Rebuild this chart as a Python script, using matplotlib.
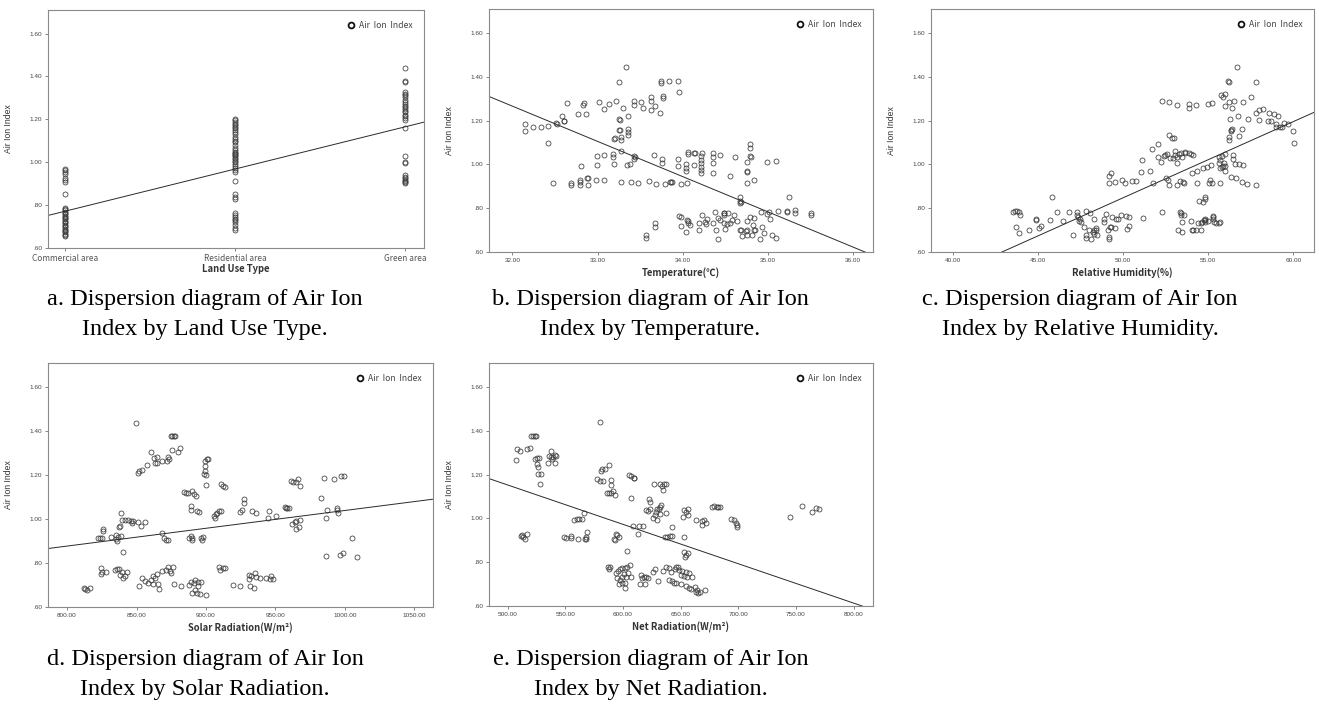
import numpy as np
import matplotlib
matplotlib.use("Agg")
import matplotlib.pyplot as plt
from matplotlib.ticker import FuncFormatter

# ---- a. land use type ----
land_use_types = ["Commercial area", "Residential area", "Green area"]
a_commercial = [0.656, 0.661, 0.667, 0.673, 0.679, 0.686, 0.690, 0.697, 0.703, 0.709, 0.716,
                0.721, 0.728, 0.733, 0.740, 0.746, 0.751, 0.758, 0.765, 0.770, 0.776, 0.782,
                0.788, 0.852, 0.909, 0.918, 0.925, 0.944, 0.955, 0.962, 0.967]
a_residential = [0.686, 0.695, 0.706, 0.722, 0.730, 0.736, 0.745, 0.755, 0.764, 0.830, 0.838,
                 0.851, 0.914, 0.956, 0.964, 0.975, 0.983, 0.992, 1.000, 1.008, 1.015, 1.022,
                 1.030, 1.035, 1.040, 1.045, 1.050, 1.058, 1.066, 1.080, 1.094, 1.100, 1.110,
                 1.120, 1.134, 1.140, 1.150, 1.158, 1.166, 1.172, 1.180, 1.188, 1.195, 1.200]
a_green = [0.902, 0.907, 0.912, 0.918, 0.925, 0.933, 0.941, 0.997, 1.000, 1.030, 1.158, 1.198,
           1.206, 1.214, 1.222, 1.232, 1.240, 1.250, 1.256, 1.264, 1.272, 1.280, 1.290, 1.303,
           1.313, 1.320, 1.328, 1.375, 1.380, 1.441]
a_fit = (0.5755, 0.1965)  # intercept, slope

# ---- b. temperature ----
b_temp = [32.15, 32.15, 32.24, 32.33, 32.42, 32.42, 32.51, 32.52, 32.48, 32.58, 32.60, 32.61,
          32.64, 32.69, 32.69, 32.77, 32.80, 32.79, 32.79, 32.79, 32.83, 32.84, 32.87, 32.88,
          32.89, 32.89, 32.98, 32.99, 32.99, 33.02, 33.07, 33.08, 33.08, 33.13, 33.18, 33.18,
          33.19, 33.20, 33.19, 33.22, 33.25, 33.25, 33.26, 33.25, 33.26, 33.27, 33.28, 33.28,
          33.28, 33.30, 33.33, 33.34, 33.36, 33.36, 33.36, 33.36, 33.38, 33.39, 33.43, 33.43,
          33.43, 33.44, 33.43, 33.48, 33.51, 33.53, 33.60, 33.63, 33.63, 33.63, 33.66, 33.67,
          33.69, 33.73, 33.75, 33.75, 33.76, 33.76, 33.77, 33.77, 33.79, 33.84, 33.85, 33.86,
          33.88, 33.95, 33.94, 33.94, 33.96, 33.98, 34.04, 34.04, 34.04, 34.05, 34.06, 34.06,
          34.13, 34.14, 34.13, 34.23, 34.21, 34.21, 34.21, 34.21, 34.21, 34.21, 34.35, 34.35,
          34.35, 34.35, 34.44, 34.56, 34.62, 34.76, 34.75, 34.79, 34.79, 34.79, 34.80, 34.76,
          34.75, 34.84, 34.99, 35.09, 35.25, 34.67, 34.67, 34.68, 34.67,
          33.57, 33.57, 33.67, 33.67, 33.96, 33.98, 33.98, 34.04, 34.05, 34.06, 34.08, 34.06,
          34.19, 34.19, 34.23, 34.26, 34.28, 34.27, 34.36, 34.38, 34.39, 34.41, 34.41, 34.44,
          34.48, 34.49, 34.48, 34.50, 34.53, 34.55, 34.58, 34.60, 34.64, 34.67, 34.68, 34.70,
          34.74, 34.76, 34.76, 34.76, 34.81, 34.79, 34.83, 34.84, 34.85, 34.84, 34.91, 34.92,
          34.93, 34.95, 34.99, 35.01, 35.03, 35.05, 35.10, 35.12, 35.22, 35.23, 35.32, 35.32,
          35.51, 35.51, 34.48, 34.52]
b_aii = [1.185, 1.154, 1.171, 1.171, 1.176, 1.099, 1.188, 1.185, 0.915, 1.221, 1.200, 1.197,
         1.279, 0.916, 0.904, 1.231, 0.995, 0.921, 0.908, 0.927, 1.270, 1.279, 1.232, 0.940,
         0.937, 0.908, 0.931, 1.038, 0.998, 1.285, 1.253, 1.044, 0.930, 1.275, 1.047, 1.034,
         1.118, 1.120, 1.001, 1.290, 1.376, 1.208, 1.205, 1.159, 1.156, 1.061, 1.127, 1.111,
         0.918, 1.258, 1.443, 0.998, 1.223, 1.160, 1.148, 1.134, 1.000, 0.922, 1.292, 1.270,
         1.040, 1.036, 1.023, 0.916, 1.287, 1.256, 0.924, 1.307, 1.288, 1.250, 1.041, 1.266,
         0.911, 1.237, 1.380, 1.374, 1.027, 1.008, 1.313, 1.305, 0.911, 1.382, 0.921, 0.918,
         0.918, 1.382, 0.994, 1.024, 1.330, 0.911, 1.001, 0.985, 0.969, 0.916, 1.058, 1.046,
         1.052, 1.050, 0.997, 1.052, 1.040, 1.020, 1.005, 0.989, 0.974, 0.959, 1.050, 1.035,
         1.008, 0.959, 1.041, 0.948, 1.035, 0.916, 1.011, 1.093, 1.073, 1.040, 1.036, 0.966,
         0.968, 0.928, 1.009, 1.017, 0.852, 0.849, 0.834, 0.830, 0.826,
         0.676, 0.666, 0.733, 0.715, 0.763, 0.760, 0.718, 0.692, 0.745, 0.733, 0.725, 0.742,
         0.702, 0.733, 0.771, 0.737, 0.753, 0.730, 0.733, 0.783, 0.702, 0.660, 0.757, 0.748,
         0.779, 0.776, 0.768, 0.707, 0.780, 0.733, 0.745, 0.771, 0.740, 0.702, 0.700, 0.672,
         0.695, 0.740, 0.699, 0.679, 0.676, 0.760, 0.722, 0.699, 0.702, 0.756, 0.658, 0.782,
         0.715, 0.689, 0.773, 0.783, 0.750, 0.676, 0.666, 0.788, 0.786, 0.782, 0.791, 0.779,
         0.780, 0.769, 0.733, 0.730]
b_fit = (6.415, -0.1609)

# ---- c. relative humidity ----
c_rh = [43.50, 43.64, 43.76, 43.87, 43.91, 43.68, 43.87, 44.48, 44.85, 44.88, 45.03, 45.17,
        45.68, 45.81, 46.14, 46.46, 46.81, 47.05, 47.26, 47.28, 47.34, 47.40, 47.48, 47.50,
        47.71, 47.79, 47.83, 47.79, 48.02, 48.08, 48.10, 48.22, 48.26, 48.26, 48.30, 48.38,
        48.42, 48.44, 48.89, 48.89, 48.98, 49.08, 49.16, 49.16, 49.20, 49.28, 49.37, 49.53,
        49.59, 49.67, 49.86, 50.14, 50.25, 50.33, 50.37, 51.19, 52.29,
        49.18, 49.28, 49.18, 49.53, 49.92, 50.08, 50.51, 50.76, 51.02, 51.08, 51.55, 51.72,
        51.74, 52.02, 52.02, 52.25, 52.39, 52.47, 52.54, 52.62, 52.60, 52.68, 52.68, 52.76,
        52.88, 53.01, 52.95, 53.05, 53.05, 53.15, 53.19, 53.15, 53.27, 53.35, 53.41, 53.46,
        53.54, 53.62, 53.64, 53.58, 53.84, 54.01, 54.13, 54.03, 54.32, 54.32, 54.68, 54.91,
        55.17, 55.07, 55.11, 55.21, 55.01, 55.21, 52.27, 52.72, 53.19, 53.86, 53.86, 54.25,
        54.46, 54.68, 54.81, 54.81, 54.56, 54.25, 54.07, 54.13, 53.99, 53.46, 53.21, 53.44,
        53.35, 53.37, 53.41, 53.58, 54.38, 54.56, 54.74, 54.81, 54.83, 54.81, 54.64, 54.99,
        55.26, 55.28, 55.26, 55.34, 55.48, 55.60, 55.69, 55.66,
        55.60, 55.66, 55.60, 55.69, 55.79, 55.89, 55.93, 55.97, 56.01, 55.79, 55.99, 55.73,
        55.89, 55.99, 55.97, 56.18, 56.20, 56.24, 56.28, 56.24, 56.24, 56.32, 56.34, 56.42,
        56.42, 56.52, 56.67, 56.48, 56.32, 56.54, 56.48, 56.64, 56.77, 56.83, 56.83, 56.97,
        57.03, 56.97, 57.03, 57.30, 57.36, 57.50, 57.81, 57.79, 57.83, 57.98, 58.00, 58.24,
        58.49, 58.67, 58.59, 58.88, 58.96, 59.12, 58.96, 59.22, 59.32, 59.47, 59.71, 60.00,
        60.04]
c_aii = [0.783, 0.788, 0.786, 0.782, 0.768, 0.715, 0.687, 0.699, 0.751, 0.748, 0.710, 0.721,
         0.747, 0.853, 0.782, 0.740, 0.782, 0.679, 0.782, 0.768, 0.760, 0.740, 0.753, 0.736,
         0.715, 0.676, 0.786, 0.666, 0.699, 0.776, 0.660, 0.692, 0.753, 0.699, 0.684, 0.702,
         0.711, 0.676, 0.737, 0.750, 0.774, 0.702, 0.669, 0.658, 0.715, 0.715, 0.760, 0.710,
         0.753, 0.750, 0.768, 0.763, 0.705, 0.721, 0.759, 0.757, 0.782,
         0.948, 0.959, 0.916, 0.919, 0.930, 0.916, 0.924, 0.924, 0.966, 1.018, 0.969, 1.072,
         0.916, 1.093, 1.035, 1.009, 1.038, 1.043, 0.936, 0.931, 1.047, 1.134, 0.905, 1.030,
         1.119, 1.119, 1.030, 1.043, 1.063, 1.008, 1.034, 0.908, 1.047, 0.924, 1.052, 1.035,
         0.921, 1.056, 1.053, 0.916, 1.050, 1.047, 1.043, 0.959, 0.969, 0.916, 0.982, 0.989,
         0.997, 0.916, 0.927, 0.913, 1.278, 1.282, 1.292, 1.285, 1.270, 1.278, 1.260, 1.270,
         0.832, 0.827, 0.841, 0.852, 0.699, 0.699, 0.699, 0.702, 0.740, 0.692, 0.702, 0.737,
         0.783, 0.780, 0.771, 0.771, 0.733, 0.734, 0.745, 0.750, 0.747, 0.737, 0.737, 0.740,
         0.763, 0.760, 0.750, 0.737, 0.733, 0.734, 0.737, 0.916,
         1.035, 1.020, 1.005, 0.982, 0.989, 0.994, 1.005, 0.971, 0.994, 1.038, 1.046, 1.318,
         1.310, 1.322, 1.267, 1.382, 1.378, 1.284, 1.208, 1.124, 1.111, 1.157, 1.154, 1.163,
         1.260, 1.292, 1.443, 1.043, 0.944, 1.001, 1.024, 0.939, 1.223, 1.130, 1.000, 1.160,
         1.284, 0.921, 0.997, 0.911, 1.208, 1.310, 0.908, 1.377, 1.237, 1.249, 1.203, 1.252,
         1.200, 1.200, 1.234, 1.229, 1.183, 1.221, 1.173, 1.173, 1.169, 1.188, 1.185, 1.154,
         1.098]
c_fit = (-0.8922, 0.0348)

# ---- d. solar radiation ----
d_solar = [849.4, 874.8, 875.9, 877.0, 878.0, 881.4, 879.7, 875.7, 872.8, 873.5, 872.0, 868.7,
           864.6, 863.4, 860.7, 862.7, 865.1, 857.3, 850.8, 852.0, 853.7, 900.5, 901.2, 899.0,
           899.5, 899.0, 898.3, 900.0, 899.8, 911.1, 912.3, 914.0, 883.9, 885.5, 887.0, 890.1,
           891.1, 893.0, 889.4, 889.2, 893.5, 895.0, 839.0, 839.8, 841.9, 843.6, 846.0, 847.7,
           846.5, 850.8, 853.3, 856.1, 837.8, 837.3, 826.0, 826.0, 825.3, 823.6, 822.4, 831.6,
           835.0, 836.4, 838.8, 835.0, 836.1, 840.0, 868.7, 870.1, 871.1, 872.5, 887.5, 889.0,
           890.1, 889.9, 896.4, 897.8, 897.1, 906.7, 905.5, 907.2, 908.2, 909.2, 911.1,
           824.3, 825.3, 827.7, 824.3, 834.5, 835.7, 837.3, 839.3, 838.1, 840.0, 841.7, 842.9,
           853.6, 856.4, 851.6, 858.5, 860.2, 861.7, 861.9, 863.4, 864.6, 865.5, 866.2, 868.7,
           871.1, 872.8, 874.2, 876.1, 874.7, 877.1, 881.9, 887.5, 889.2, 889.9, 891.8, 893.5,
           896.0, 900.0, 892.3, 894.2, 896.1, 891.1, 894.2, 812.8, 814.7, 816.6, 812.3, 909.2,
           910.4, 912.0, 914.0, 919.3,
           927.7, 927.2, 925.9, 924.7, 933.3, 935.7, 945.3, 944.6, 950.1, 956.6, 957.3, 958.6,
           959.8, 961.4, 962.9, 964.6, 966.5, 967.5, 962.0, 964.0, 964.8, 967.7, 965.0, 967.2,
           983.1, 984.8, 987.2, 986.5, 992.0, 994.0, 994.0, 995.0, 997.1, 999.3, 1004.8, 986.5,
           996.6, 998.6, 1008.4, 931.3, 931.3, 932.5, 935.4, 939.0, 936.1, 924.6, 931.8, 934.9,
           943.4, 945.8, 947.0, 948.2]
d_aii = [1.438, 1.379, 1.379, 1.378, 1.376, 1.324, 1.304, 1.315, 1.284, 1.275, 1.266, 1.265,
         1.254, 1.254, 1.307, 1.280, 1.284, 1.246, 1.209, 1.220, 1.221, 1.272, 1.275, 1.266,
         1.242, 1.219, 1.204, 1.201, 1.155, 1.158, 1.150, 1.144, 1.125, 1.118, 1.118, 1.128,
         1.114, 1.105, 1.061, 1.041, 1.038, 1.033, 1.029, 0.998, 0.995, 0.995, 0.991, 0.989,
         0.980, 0.988, 0.970, 0.988, 0.968, 0.962, 0.957, 0.945, 0.916, 0.915, 0.915, 0.919,
         0.927, 0.919, 0.924, 0.909, 0.898, 0.849, 0.938, 0.916, 0.907, 0.903, 0.916, 0.922,
         0.916, 0.904, 0.912, 0.918, 0.904, 1.003, 1.014, 1.021, 1.029, 1.036, 1.036,
         0.778, 0.758, 0.758, 0.752, 0.770, 0.775, 0.775, 0.760, 0.744, 0.732, 0.740, 0.758,
         0.734, 0.719, 0.697, 0.711, 0.725, 0.743, 0.706, 0.734, 0.749, 0.706, 0.682, 0.764,
         0.770, 0.782, 0.764, 0.782, 0.755, 0.703, 0.697, 0.702, 0.714, 0.665, 0.676, 0.664,
         0.661, 0.656, 0.722, 0.714, 0.714, 0.710, 0.697, 0.684, 0.676, 0.687, 0.686, 0.782,
         0.767, 0.778, 0.778, 0.699,
         1.090, 1.071, 1.041, 1.030, 1.038, 1.029, 1.036, 1.006, 1.014, 1.056, 1.050, 1.049,
         1.050, 1.175, 1.170, 1.167, 1.183, 1.152, 0.977, 0.985, 0.991, 0.995, 0.957, 0.965,
         1.094, 1.186, 1.041, 1.003, 1.183, 1.051, 1.041, 1.026, 1.196, 1.196, 0.912, 0.831,
         0.836, 0.847, 0.828, 0.744, 0.729, 0.740, 0.756, 0.733, 0.738, 0.697, 0.697, 0.687,
         0.733, 0.729, 0.740, 0.726]
d_fit = (0.2291, 0.00081)

# ---- e. net radiation ----
e_net = [507.2, 508.4, 510.4, 516.4, 519.3, 520.7, 522.2, 523.6, 525.0, 523.6, 525.6, 527.1,
         525.6, 526.5, 526.5, 528.8, 528.0, 534.6, 535.7, 537.5, 538.0, 539.5, 541.0, 542.4,
         541.5, 538.9, 512.1, 513.5, 515.0, 516.4, 511.5, 548.7, 551.0, 554.8, 554.8, 561.1,
         557.9, 559.9, 562.0, 564.6, 566.1, 567.1, 568.3, 568.6, 567.7, 579.8, 577.8, 579.8,
         582.7, 580.7, 582.1, 584.1, 587.6, 586.2, 587.6, 589.9, 591.4, 592.8, 589.9, 589.9,
         592.2, 593.7, 595.1, 596.3, 593.4, 604.9, 606.6, 609.2, 610.0, 606.6, 603.2, 587.0,
         588.5, 587.6, 594.2, 595.7, 597.7, 599.4, 601.4, 603.7, 606.3, 595.1, 597.1, 599.1,
         600.9, 602.9, 604.3, 606.6, 596.5, 599.4, 601.4, 601.4, 615.3, 616.7, 618.2, 620.2,
         621.6, 614.4, 619.3, 626.0, 628.0, 630.3, 634.6, 637.5, 639.5, 641.8, 644.7, 647.6,
         640.3, 642.7, 644.1, 608.9, 613.0, 613.9, 617.3, 622.5, 623.6, 620.2, 621.6, 623.1,
         625.7, 627.4, 628.8, 629.7, 630.9, 631.7, 633.1, 632.3, 629.7, 626.8, 631.7, 633.7,
         635.2, 637.5, 634.9, 637.5, 636.1, 638.5, 640.5, 642.5, 642.7,
         653.3, 654.8, 656.2, 656.8, 651.9, 653.3, 653.3, 654.8, 656.2, 654.1, 645.7, 648.6,
         651.5, 654.3, 657.2, 660.1, 650.1, 653.0, 655.9, 645.7, 650.1, 654.4, 657.3, 659.4,
         662.2, 664.0, 665.1, 666.9, 670.9, 663.1, 663.1, 668.9, 670.3, 672.3, 668.3, 677.5,
         679.0, 681.3, 682.7, 684.1, 693.9, 696.3, 697.7, 698.6, 699.2, 744.4, 754.8, 764.0,
         767.7, 769.7]
e_aii = [1.266, 1.316, 1.307, 1.316, 1.323, 1.378, 1.375, 1.378, 1.377, 1.270, 1.276, 1.276,
         1.247, 1.235, 1.205, 1.202, 1.156, 1.255, 1.285, 1.307, 1.281, 1.281, 1.288, 1.284,
         1.255, 1.270, 0.924, 0.916, 0.905, 0.928, 0.918, 0.915, 0.909, 0.912, 0.922, 0.907,
         0.995, 0.997, 0.998, 0.998, 1.026, 0.907, 0.916, 0.937, 0.907, 1.439, 1.180, 1.170,
         1.171, 1.216, 1.225, 1.228, 1.246, 1.117, 1.117, 1.118, 1.124, 1.106, 1.174, 1.152,
         0.908, 0.928, 0.924, 0.916, 0.901, 1.197, 1.194, 1.185, 1.186, 1.095, 0.851, 0.779,
         0.776, 0.767, 0.749, 0.760, 0.767, 0.772, 0.772, 0.779, 0.787, 0.726, 0.719, 0.734,
         0.744, 0.734, 0.749, 0.731, 0.699, 0.706, 0.684, 0.703, 0.741, 0.726, 0.731, 0.734,
         0.729, 0.699, 0.699, 0.757, 0.767, 0.714, 0.761, 0.776, 0.772, 0.757, 0.767, 0.776,
         0.719, 0.714, 0.706, 0.966, 0.928, 0.966, 0.966, 1.091, 1.073, 1.038, 1.035, 1.041,
         1.004, 1.015, 1.030, 1.041, 1.045, 1.053, 1.060, 1.022, 0.992, 1.156, 1.155, 1.147,
         1.155, 1.159, 1.132, 1.026, 0.913, 0.913, 0.919, 0.922, 0.959,
         1.038, 1.030, 1.041, 1.015, 1.007, 0.913, 0.848, 0.833, 0.840, 0.826, 0.779, 0.764,
         0.761, 0.755, 0.749, 0.731, 0.741, 0.737, 0.734, 0.706, 0.699, 0.693, 0.684, 0.679,
         0.688, 0.673, 0.661, 0.662, 0.673, 0.662, 0.992, 0.989, 0.995, 0.980, 0.969, 1.050,
         1.057, 1.051, 1.051, 1.051, 0.997, 0.992, 0.980, 0.969, 0.959, 1.007, 1.056, 1.030,
         1.048, 1.042]
e_fit = (2.0530, -0.0018)

index_ticks = [0.6, 0.8, 1.0, 1.2, 1.4, 1.6]
captions = [
    ("a. Dispersion diagram of Air Ion", "Index by Land Use Type."),
    ("b. Dispersion diagram of Air Ion", "Index by Temperature."),
    ("c. Dispersion diagram of Air Ion", "Index by Relative Humidity."),
    ("d. Dispersion diagram of Air Ion", "Index by Solar Radiation."),
    ("e. Dispersion diagram of Air Ion", "Index by Net Radiation."),
]

W, H = 1319, 709
fig = plt.figure(figsize=(W / 100, H / 100), dpi=100)
fig.patch.set_facecolor("white")

LABEL_FONT = ["Noto Sans CJK KR", "DejaVu Sans"]
TICK_FONT = ["Liberation Sans", "DejaVu Sans"]


def index_fmt(v, pos):
    s = "%.2f" % v
    return s[1:] if s.startswith("0") else s


def draw_panel(box, x, y, fit, xlim, xticks, xlabel, xticklabels=None):
    l, t, r, b = box  # pixel box of the plot frame
    ax = fig.add_axes([l / W, 1 - b / H, (r - l) / W, (b - t) / H])
    pts, = ax.plot(x, y, "o", ms=3.6, mfc="none", mec="#3a3a3a", mew=0.55,
                   label="Air  Ion  Index")
    xs = np.array(xlim)
    ax.plot(xs, fit[0] + fit[1] * xs, color="#2a2a2a", lw=0.7)
    ax.set_xlim(xlim)
    ax.set_ylim(0.6, 1.71)
    ax.set_yticks(index_ticks)
    ax.yaxis.set_major_formatter(FuncFormatter(index_fmt))
    ax.set_xticks(xticks)
    if xticklabels is not None:
        ax.set_xticklabels(xticklabels, fontsize=6, family=LABEL_FONT, color="#555555")
    else:
        ax.xaxis.set_major_formatter(FuncFormatter(lambda v, p: "%.2f" % v))
    ax.tick_params(length=2.5, width=0.5, color="#555555", pad=1.5)
    for lab in ax.get_yticklabels() + (ax.get_xticklabels() if xticklabels is None else []):
        lab.set_fontsize(4.6)
        lab.set_family(TICK_FONT)
        lab.set_color("#444444")
    for sp in ax.spines.values():
        sp.set_color("#8a8a8a")
        sp.set_linewidth(0.8)

    ax.set_ylabel("Air Ion Index", fontsize=6.2, family=TICK_FONT, color="#333333")
    ax.yaxis.set_label_coords(-35 / (r - l), 0.5)
    ax.set_xlabel(xlabel, fontsize=6.8, family=LABEL_FONT, fontweight="bold", color="#333333")
    ax.xaxis.set_label_coords(0.5, -21 / (b - t))
    ax.xaxis.label.set_va("center")

    leg = ax.legend(handles=[pts], loc="upper right", frameon=False,
                    prop={"family": LABEL_FONT, "size": 6.2}, handlelength=0.6,
                    handletextpad=0.6, borderaxespad=0.9, labelcolor="#444444")
    h = leg.legend_handles[0]
    h.set_markeredgewidth(1.3)
    h.set_markeredgecolor("#111111")
    h.set_markersize(4.2)
    return ax


cats = [1] * len(a_commercial) + [2] * len(a_residential) + [3] * len(a_green)
draw_panel((48, 10, 424, 248), cats, a_commercial + a_residential + a_green, a_fit,
           (0.897, 3.112), [1, 2, 3], "Land Use Type", xticklabels=land_use_types)
draw_panel((489, 9, 873, 252), b_temp, b_aii, b_fit, (31.725, 36.235),
           [32, 33, 34, 35, 36], "Temperature(℃)")
draw_panel((931, 9, 1314, 252), c_rh, c_aii, c_fit, (38.71, 61.21),
           [40, 45, 50, 55, 60], "Relative Humidity(%)")
draw_panel((48, 363, 433, 607), d_solar, d_aii, d_fit, (786.3, 1063.4),
           [800, 850, 900, 950, 1000, 1050], "Solar Radiation(W/m²)")
draw_panel((489, 363, 873, 606), e_net, e_aii, e_fit, (483.9, 816.7),
           [500, 550, 600, 650, 700, 750, 800], "Net Radiation(W/m²)")

# captions under each panel
cap_pos = [(205, 299), (650, 299), (1080, 299), (205, 659), (651, 659)]
for (line1, line2), (cx, cy) in zip(captions, cap_pos):
    fig.text(cx / W, 1 - cy / H, line1, ha="center", va="center",
             family="Liberation Serif", fontsize=17.5, color="black")
    fig.text(cx / W, 1 - (cy + 31) / H, line2, ha="center", va="center",
             family="Liberation Serif", fontsize=17.5, color="black")

fig.savefig("out.png", dpi=100, facecolor="white")
